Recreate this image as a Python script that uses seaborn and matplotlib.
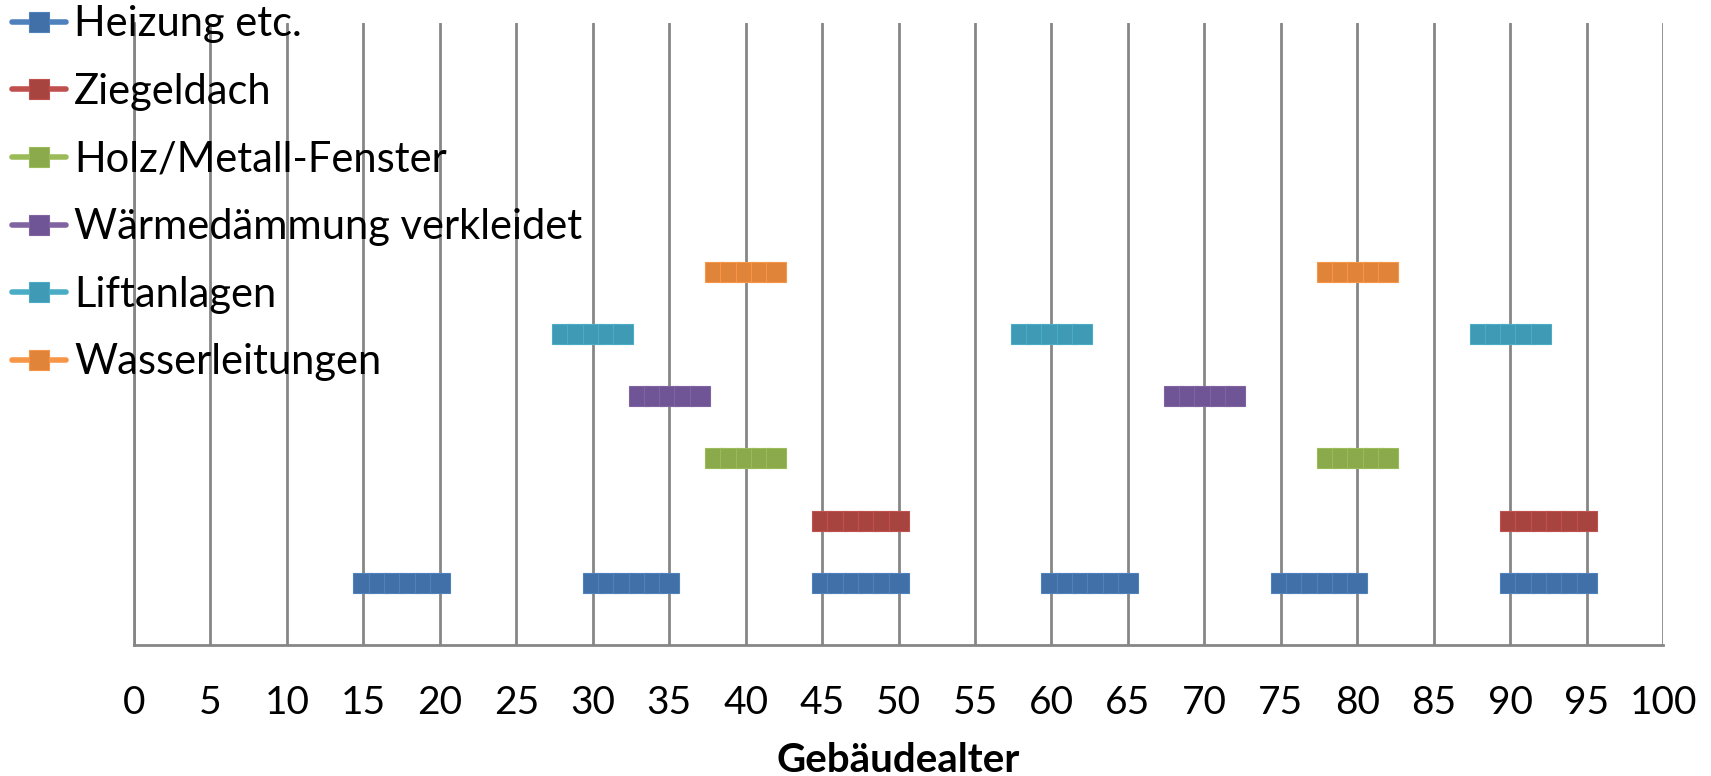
import numpy as np
import pandas as pd
import matplotlib
matplotlib.use("Agg")
import matplotlib.pyplot as plt
import seaborn as sns
from matplotlib.lines import Line2D

# components (legend order) and their level on the hidden y axis
components = ["Heizung etc.", "Ziegeldach", "Holz/Metall-Fenster",
              "Wärmedämmung verkleidet", "Liftanlagen", "Wasserleitungen"]
levels = [1, 2, 3, 4, 5, 6]

# renovation periods (first year, last year) per component
heizung_periods = [(15, 20), (30, 35), (45, 50), (60, 65), (75, 80), (90, 95)]
ziegeldach_periods = [(45, 50), (90, 95)]
fenster_periods = [(38, 42), (78, 82)]
waerme_periods = [(33, 37), (68, 72)]
lift_periods = [(28, 32), (58, 62), (88, 92)]
wasser_periods = [(38, 42), (78, 82)]
all_periods = [heizung_periods, ziegeldach_periods, fenster_periods,
               waerme_periods, lift_periods, wasser_periods]

line_colors = ["#4F81BD", "#C0504D", "#9BBB59", "#8064A2", "#4BACC6", "#F79646"]
face_colors = ["#4170A8", "#A84440", "#8AAA4B", "#6F5596", "#3F9AB5", "#E0843A"]

rows = []
for comp, lvl, periods in zip(components, levels, all_periods):
    for seg, (a, b) in enumerate(periods):
        for year in range(a, b + 1):
            rows.append({"component": comp, "segment": seg, "age": year, "level": lvl})
df = pd.DataFrame(rows)

sns.set_style("white")
plt.rcParams["font.family"] = ["Lato", "DejaVu Sans"]
plt.rcParams["text.color"] = "black"
plt.rcParams["xtick.color"] = "black"
plt.rcParams["axes.labelcolor"] = "black"

fig = plt.figure(figsize=(17.11, 7.76), dpi=100)
ax = fig.add_axes([0.0783, 0.169, 0.8937, 0.801])

ms = 14.4
for comp, lc, fc in zip(components, line_colors, face_colors):
    sub = df[df["component"] == comp]
    sns.lineplot(data=sub, x="age", y="level", units="segment", estimator=None,
                 color=lc, marker="s", markersize=ms, markerfacecolor=fc,
                 markeredgecolor=lc, markeredgewidth=0.8, linewidth=3,
                 legend=False, ax=ax)

ax.set_xlim(0, 100)
ax.set_ylim(0, 10)
ax.set_xticks(np.arange(0, 101, 5))
ax.set_yticks([])
ax.set_ylabel("")
ax.set_xlabel("Gebäudealter", fontsize=29, fontweight="bold", labelpad=15)
ax.tick_params(axis="x", length=0, pad=29, labelsize=28)
ax.grid(axis="x", color="#868686", linewidth=2)
ax.set_axisbelow(True)
for side in ["top", "right"]:
    ax.spines[side].set_visible(False)
for side in ["left", "bottom"]:
    ax.spines[side].set_color("#868686")
    ax.spines[side].set_linewidth(2)

handles = [Line2D([], [], color=lc, linewidth=4, marker="s", markersize=ms,
                  markerfacecolor=fc, markeredgecolor=lc, markeredgewidth=0.8)
           for lc, fc in zip(line_colors, face_colors)]
leg = ax.legend(handles, components, loc="upper left",
                bbox_to_anchor=(0.004, 1.0), bbox_transform=fig.transFigure,
                frameon=False, fontsize=30, handlelength=1.3, handletextpad=0.18,
                labelspacing=0.71, borderaxespad=0.0, borderpad=0.13)

fig.savefig("out.png", dpi=100)
